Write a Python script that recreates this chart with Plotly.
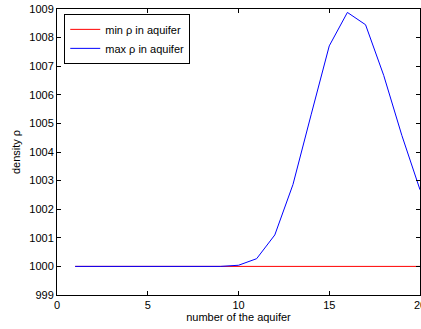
import plotly.graph_objects as go

aquifer = list(range(1, 21))
min_rho = [1000.0] * 20
max_rho = [1000.0, 1000.0, 1000.0, 1000.0, 1000.0, 1000.0, 1000.0, 1000.0, 1000.0,
           1000.04, 1000.27, 1001.1, 1002.86, 1005.3, 1007.71, 1008.88, 1008.45,
           1006.68, 1004.58, 1002.68]

fig = go.Figure()
fig.add_trace(go.Scatter(x=aquifer, y=min_rho, mode="lines", name="min ρ in aquifer",
                         line=dict(color="#ff0000", width=1)))
fig.add_trace(go.Scatter(x=aquifer, y=max_rho, mode="lines", name="max ρ in aquifer",
                         line=dict(color="#0000ff", width=1)))

axis_common = dict(showgrid=False, zeroline=False, showline=True, linecolor="black",
                   linewidth=1, mirror="ticks", ticks="inside", ticklen=4,
                   tickcolor="black", tickfont=dict(size=11, color="black"),
                   ticklabeloverflow="allow", automargin=False)

fig.update_layout(
    width=421, height=329,
    margin=dict(l=57, r=1, t=9, b=34),
    paper_bgcolor="white", plot_bgcolor="white",
    font=dict(family="Liberation Sans, Arial, sans-serif", size=11, color="black"),
    xaxis=dict(range=[0, 20], tickvals=[0, 5, 10, 15, 20],
               title=dict(text="number of the aquifer", font=dict(size=11), standoff=3),
               **axis_common),
    yaxis=dict(range=[999, 1009], tickvals=list(range(999, 1010)),
               title=dict(text="density ρ", font=dict(size=11), standoff=6),
               **axis_common),
    legend=dict(x=0.02, y=0.983, xanchor="left", yanchor="top",
                bgcolor="white", bordercolor="black", borderwidth=1,
                font=dict(size=11), tracegroupgap=0),
    showlegend=True,
)

fig.write_html("out.html")
